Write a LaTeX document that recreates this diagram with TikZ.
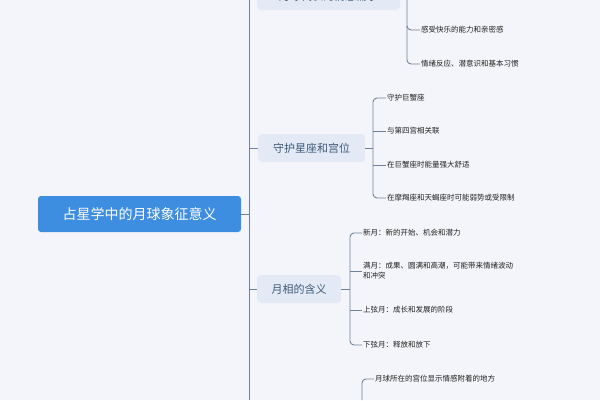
\documentclass[tikz,border=0pt]{standalone}
\usepackage{fontspec}
\newfontfamily\cjk{Noto Sans CJK SC}
\definecolor{rootc}{HTML}{3D8DE0}
\definecolor{topc}{HTML}{E3EAF6}
\definecolor{linec}{HTML}{6F8299}
\definecolor{toptext}{HTML}{3E5A78}
\definecolor{bgc}{HTML}{F4F5FA}
\begin{document}
\begin{tikzpicture}[x=1pt,y=-1pt,
  ln/.style={draw=linec,line width=0.9pt},
  topic/.style={fill=topc,rounded corners=4pt,minimum height=28pt,anchor=west,font=\cjk\fontsize{11}{13}\selectfont,text=toptext,inner sep=7pt},
  leaf/.style={anchor=west,font=\cjk\fontsize{7.5}{10}\selectfont,text=black!75!gray,inner sep=1pt,align=left}]
\useasboundingbox (0,0) rectangle (600,400);
\fill[bgc] (0,0) rectangle (600,400);
\node[fill=rootc,rounded corners=3pt,minimum width=203pt,minimum height=36pt,text=white,font=\cjk\fontsize{14}{16}\selectfont] (root) at (139.5,214) {占星学中的月球象征意义};
\coordinate (t0) at (249,0); \coordinate (t1) at (249,400);
\draw[ln] (t0)--(t1);
\draw[ln] (root.east)--(249,214);
\node[topic,minimum width=143pt] (a) at (257,-4) {月球代表的情感需求};
\node[topic,minimum width=107pt] (b) at (258,148) {守护星座和宫位};
\node[topic,minimum width=84pt] (c) at (257,289) {月相的含义};
\foreach \n/\y in {a/-4,b/148,c/289}{\draw[ln] (249,\y)--(\n.west);}
% a children
\node[leaf] (a1) at (420,-4) {内在需求和安全感};
\node[leaf] (a2) at (420,30) {感受快乐的能力和亲密感};
\node[leaf] (a3) at (420,64) {情绪反应、潜意识和基本习惯};
\draw[ln] (a.east)--(407,-4);
\draw[ln,rounded corners=4pt] (407,-10)--(407,64)--(a3.west);
\draw[ln,rounded corners=4pt] (407,26)--(407,30)--(a2.west);
% b children
\node[leaf] (b1) at (386,98) {守护巨蟹座};
\node[leaf] (b2) at (386,131) {与第四宫相关联};
\node[leaf] (b3) at (386,165) {在巨蟹座时能量强大舒适};
\node[leaf] (b4) at (386,198) {在摩羯座和天蝎座时可能弱势或受限制};
\draw[ln] (b.east)--(373,148);
\draw[ln,rounded corners=4pt] (b1.west)--(373,98)--(373,198)--(b4.west);
\draw[ln] (373,131)--(b2.west); \draw[ln] (373,165)--(b3.west);
% c children
\node[leaf] (c1) at (362,233) {新月：新的开始、机会和潜力};
\node[leaf] (c2) at (362,271) {满月：成果、圆满和高潮，可能带来情绪波动\\和冲突};
\node[leaf] (c3) at (362,310) {上弦月：成长和发展的阶段};
\node[leaf] (c4) at (362,345) {下弦月：释放和放下};
\draw[ln] (c.east)--(350,289);
\draw[ln,rounded corners=4pt] (c1.west)--(350,233)--(350,345)--(c4.west);
\draw[ln] (350,271)--(c2.west); \draw[ln] (350,310)--(c3.west);
% d
\node[leaf] (d1) at (374,379) {月球所在的宫位显示情感附着的地方};
\draw[ln,rounded corners=4pt] (d1.west)--(362,379)--(362,400);
\end{tikzpicture}
\end{document}
